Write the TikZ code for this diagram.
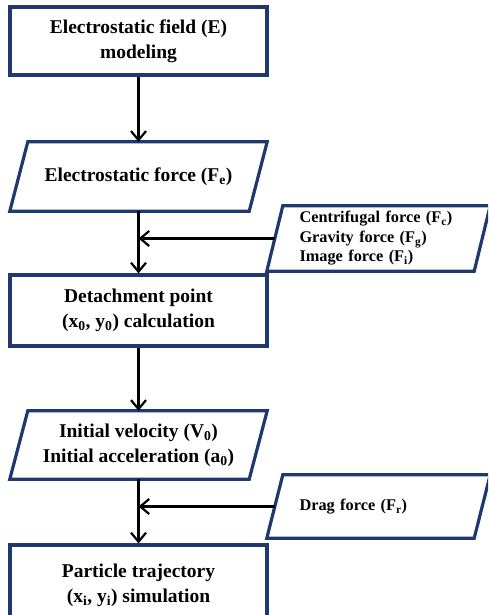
\documentclass[tikz,border=0pt]{standalone}
\usepackage{fontspec}
\setmainfont{Liberation Serif}
\usetikzlibrary{arrows.meta}
\definecolor{framenavy}{RGB}{31,56,110}

\tikzstyle{stage}=[%
	draw=framenavy, line width=3.2pt, inner sep=0pt,
	minimum width=257pt, align=center,
	font=\bfseries\fontsize{19.5}{25}\selectfont%
]
\tikzstyle{slanted}=[%
	inner sep=0pt, minimum width=239pt, align=center,
	font=\bfseries\fontsize{19.5}{25}\selectfont%
]
\tikzstyle{side}=[%
	inner sep=0pt, minimum width=207pt, text width=158pt, align=left,
	font=\bfseries\fontsize{16.3}{19.5}\selectfont%
]
\tikzstyle{frame}=[draw=framenavy, line width=3.2pt, line join=miter]
\tikzstyle{flow}=[line width=2.2pt, -{Straight Barb[length=9pt, width=15pt]}]

% parallelogram round a node: #1 node, #2 half of the slant
\newcommand{\slantframe}[2]{%
	\draw[frame] ([xshift=#2]#1.north west) -- ([xshift=#2]#1.north east)
		-- ([xshift=-#2]#1.south east) -- ([xshift=-#2]#1.south west) -- cycle;%
}

\begin{document}
\begin{tikzpicture}[x=1pt, y=-1pt]
	\clip (0,0) rectangle (488,615);
	\fill[white] (0,0) rectangle (488,615);

	\node[stage, minimum height=68pt] (model) at (138.5,41) {Electrostatic field (E)\\modeling};
	\node[slanted, minimum height=69pt] (efor) at (138.5,176.5) {Electrostatic force (F\textsubscript{e})};
	\node[stage, minimum height=71pt] (det) at (138.5,310.5) {Detachment point\\(x\textsubscript{0}, y\textsubscript{0}) calculation};
	\node[slanted, minimum height=68pt] (init) at (138.5,445) {Initial velocity (V\textsubscript{0})\\Initial acceleration (a\textsubscript{0})};
	\node[stage, minimum height=80pt] (part) at (138.5,585) {Particle trajectory\\(x\textsubscript{i}, y\textsubscript{i}) simulation};

	\node[side, minimum height=65pt] (side1) at (378.5,238.5) {Centrifugal force (F\textsubscript{c})\\Gravity force (F\textsubscript{g})\\Image force (F\textsubscript{i})};
	\node[side, minimum height=63pt] (side2) at (378.5,506.5) {Drag force (F\textsubscript{r})};

	\slantframe{efor}{9pt}
	\slantframe{init}{9pt}
	\slantframe{side1}{8pt}
	\slantframe{side2}{8pt}

	\coordinate (j1) at (efor.south |- side1.west);
	\coordinate (j2) at (init.south |- side2.west);

	\draw[flow] (model) -- (efor);
	\draw[flow] (efor) -- (det);
	\draw[flow] (det) -- (init);
	\draw[flow] (init) -- (part);
	\draw[flow] (side1.west) -- (j1);
	\draw[flow] (side2.west) -- (j2);
\end{tikzpicture}
\end{document}
